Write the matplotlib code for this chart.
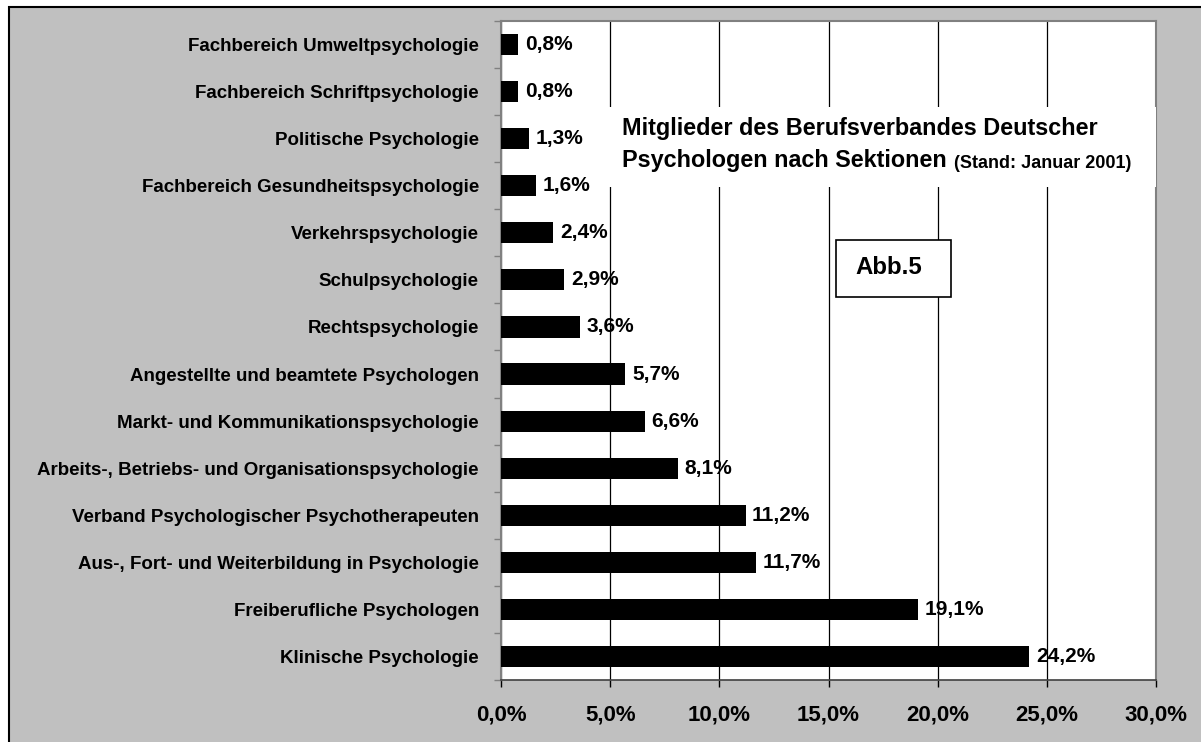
import matplotlib
matplotlib.use("Agg")
import matplotlib.pyplot as plt
import numpy as np
from matplotlib.patches import Rectangle
from matplotlib.ticker import FuncFormatter, FixedLocator

plt.rcParams["font.family"] = ["Liberation Sans", "DejaVu Sans"]
plt.rcParams["font.weight"] = "bold"

# top to bottom as in the reference
sections = [
    "Fachbereich Umweltpsychologie",
    "Fachbereich Schriftpsychologie",
    "Politische Psychologie",
    "Fachbereich Gesundheitspsychologie",
    "Verkehrspsychologie",
    "Schulpsychologie",
    "Rechtspsychologie",
    "Angestellte und beamtete Psychologen",
    "Markt- und Kommunikationspsychologie",
    "Arbeits-, Betriebs- und Organisationspsychologie",
    "Verband Psychologischer Psychotherapeuten",
    "Aus-, Fort- und Weiterbildung in Psychologie",
    "Freiberufliche Psychologen",
    "Klinische Psychologie",
]
shares = [0.8, 0.8, 1.3, 1.6, 2.4, 2.9, 3.6, 5.7, 6.6, 8.1, 11.2, 11.7, 19.1, 24.2]
x_ticks = [0, 5, 10, 15, 20, 25, 30]

GRAY = "#c0c0c0"
W, H = 1201, 742


def pct(v):
    return f"{v:.1f}%".replace(".", ",")


fig = plt.figure(figsize=(W / 100, H / 100), dpi=100, facecolor="white")
# gray chart area with black frame on the top and left edge
fig.patches.append(Rectangle((9 / W, -0.1), 1.2, 1.1 - 7 / H,
                             transform=fig.transFigure, facecolor=GRAY,
                             edgecolor="black", linewidth=1.5, zorder=-5))

ax = fig.add_axes([501 / W, 1 - 680 / H, 655 / W, 659 / H])
ax.set_facecolor("white")

n = len(sections)
ypos = np.arange(n)[::-1]
ax.barh(ypos, shares, height=0.45, color="black", zorder=3)
for y, v in zip(ypos, shares):
    ax.text(v + 0.3, y, pct(v), va="center", ha="left", fontsize=15, zorder=4)

ax.set_xlim(0, 30)
ax.set_ylim(-0.5, n - 0.5)
ax.set_xticks(x_ticks)
ax.xaxis.set_major_formatter(FuncFormatter(lambda v, _: pct(v)))
ax.tick_params(axis="x", direction="out", length=5, width=1, labelsize=16, pad=13)
ax.grid(axis="x", color="black", linewidth=0.9, zorder=1)

ax.set_yticks(ypos)
ax.set_yticklabels(sections, fontsize=13.5)
ax.tick_params(axis="y", which="major", length=0, pad=16)
ax.yaxis.set_minor_locator(FixedLocator(np.arange(-0.5, n, 1.0)))
ax.tick_params(axis="y", which="minor", direction="out", length=5, width=1, color="#808080")

for side in ("left", "right", "top"):
    ax.spines[side].set_color("#808080")
    ax.spines[side].set_linewidth(1.5)
ax.spines["bottom"].set_color("#404040")
ax.spines["bottom"].set_linewidth(1.2)

# title box (white, covers the grid)
fig.patches.append(Rectangle((608 / W, 1 - 187 / H), 548 / W, 80 / H,
                             transform=fig.transFigure, facecolor="white",
                             edgecolor="none", zorder=5))
fig.text(622 / W, 1 - 128 / H, "Mitglieder des Berufsverbandes Deutscher",
         fontsize=16.8, va="center", ha="left", zorder=6)
t = fig.text(622 / W, 1 - 161 / H, "Psychologen nach Sektionen",
             fontsize=16.8, va="center", ha="left", zorder=6)
fig.canvas.draw()
bb = t.get_window_extent()
fig.text((bb.x1 + 7) / W, 1 - 163 / H, "(Stand: Januar 2001)",
         fontsize=13, va="center", ha="left", zorder=6)

# Abb.5 box
fig.patches.append(Rectangle((836 / W, 1 - 297 / H), 115 / W, 57 / H,
                             transform=fig.transFigure, facecolor="white",
                             edgecolor="black", linewidth=1.2, zorder=5))
fig.text(889 / W, 1 - 267 / H, "Abb.5", fontsize=17.3, va="center", ha="center",
         zorder=6)

fig.savefig("out.png", dpi=100, facecolor=fig.get_facecolor())
